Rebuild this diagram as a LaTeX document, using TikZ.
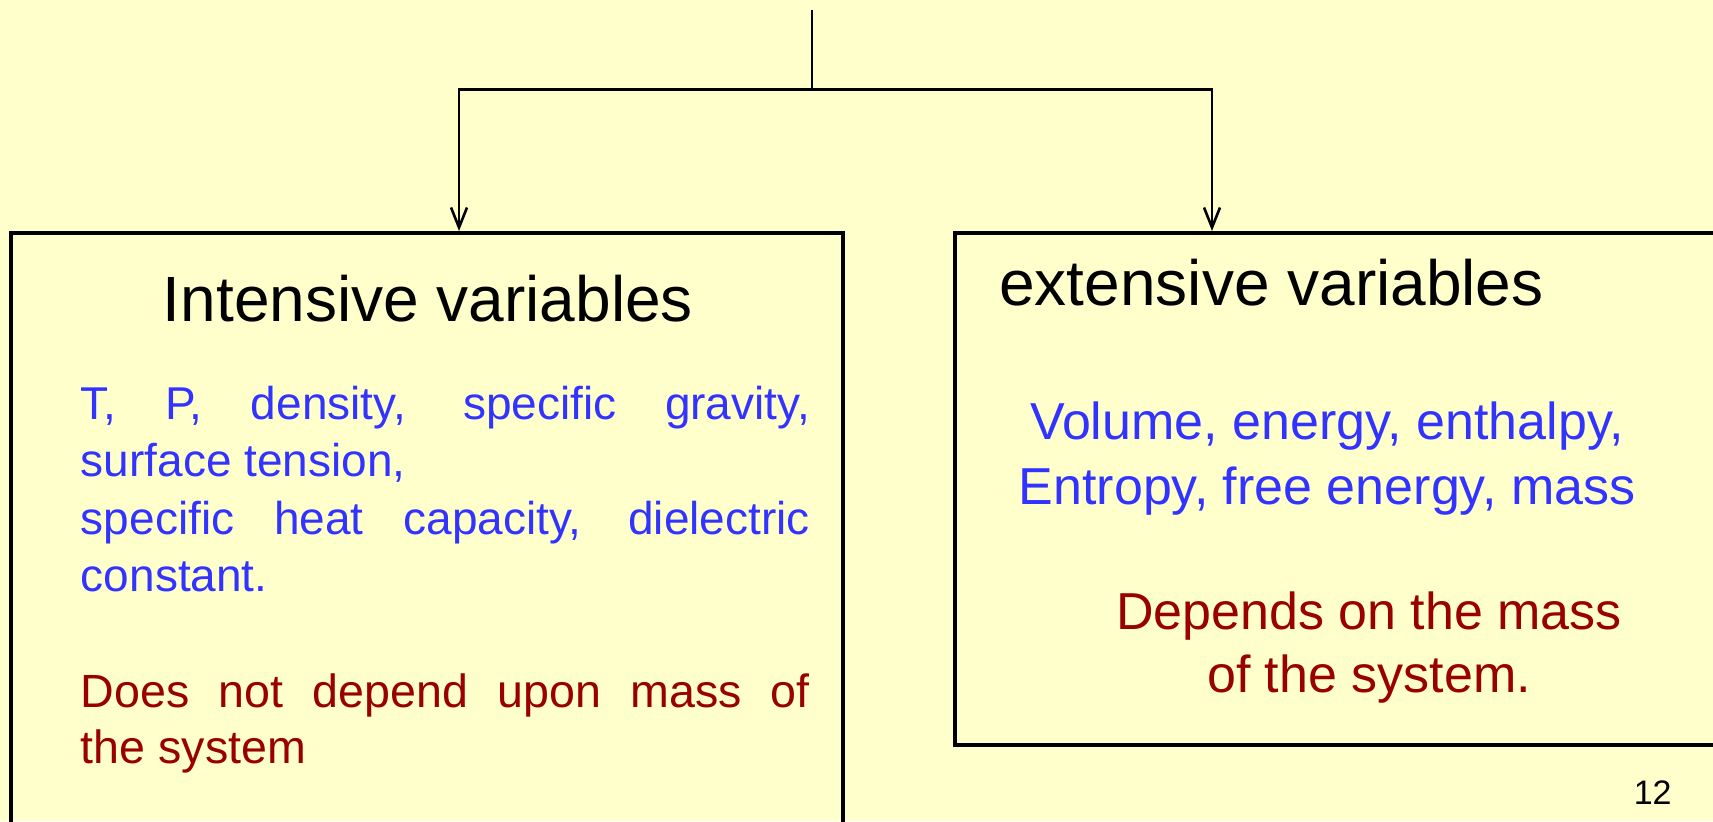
\documentclass[tikz,border=0pt]{standalone}
\usepackage{fontspec}
\setmainfont{Liberation Sans}
\usetikzlibrary{arrows.meta}
\setlength{\parindent}{0pt}
\definecolor{bg}{HTML}{FFFFCC}
\definecolor{txtblue}{HTML}{3333FF}
\definecolor{txtred}{HTML}{990000}
\begin{document}
\begin{tikzpicture}[x=0.5pt,y=-0.5pt,
  box/.style={draw=black,line width=2pt,inner sep=0pt,rectangle},
  conn/.style={draw=black,line width=1.3pt},
  arr/.style={conn,-{Straight Barb[length=10pt,width=8pt]}},
  heading/.style={font=\fontsize{32}{38}\selectfont,text=black,inner sep=0pt},
  leftblue/.style={font=\fontsize{23}{28.75}\selectfont,text=txtblue,inner sep=0pt,text width=364.5pt,align=justify},
  leftred/.style={font=\fontsize{23.3}{28}\selectfont,text=txtred,inner sep=0pt,text width=364.5pt,align=justify},
  rightblue/.style={font=\fontsize{26}{32.5}\selectfont,text=txtblue,inner sep=0pt,align=center},
  rightred/.style={font=\fontsize{26}{31.5}\selectfont,text=txtred,inner sep=0pt,align=center},
  pagenum/.style={font=\fontsize{17}{20}\selectfont,text=black,inner sep=0pt}]
\useasboundingbox (0,0) rectangle (1713,821);
\fill[bg] (0,0) rectangle (1713,821);
\clip (0,0) rectangle (1713,821);

% boxes
\node[box,minimum width=416pt,minimum height=308.5pt] (L) at (427,541.5) {};
\node[box,minimum width=387.5pt,minimum height=256pt] (R) at (1342.5,489) {};

% connectors
\coordinate (top) at (812,10);
\coordinate (mid) at (812,89.5);
\draw[conn] (top) -- (mid);
\draw[arr] (mid) -| (459,0 |- L.north);
\draw[arr] (mid) -| (1212,0 |- R.north);

% left box texts
\node[heading,anchor=base] (Lt) at (428,321.5) {Intensive variables};
\node[leftblue,anchor=base west] (Lb) at (80.5,419) {T, P, density, specific gravity,\linebreak surface tension,\\ specific heat capacity, dielectric\linebreak constant.};
\node[leftred,anchor=base west] (Lr) at (80.5,707) {Does not depend upon mass of\linebreak the system};

% right box texts
\node[heading,anchor=base west] (Rt) at (999,305) {extensive variables};
\node[rightblue,anchor=base] (Rb) at (1327,504) {Volume, energy, enthalpy,\\ Entropy, free energy, mass};
\node[rightred,anchor=base] (Rr) at (1369,692) {Depends on the mass\\ of the system.};

% page number
\node[pagenum,anchor=base east] (pg) at (1672,804.5) {12};
\end{tikzpicture}
\end{document}
